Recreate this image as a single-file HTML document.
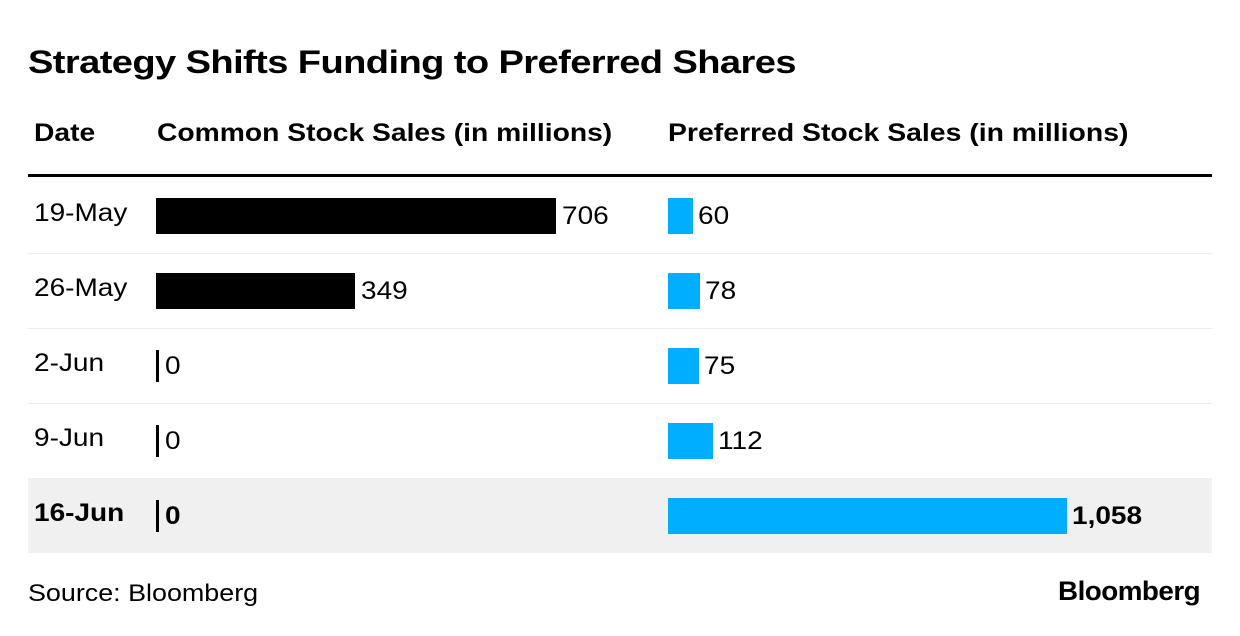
<!DOCTYPE html>
<html><head><meta charset="utf-8"><style>
body{margin:0;background:#fff;font-family:"Liberation Sans",sans-serif;color:#000}
#c{position:relative;width:1240px;height:636px;overflow:hidden}
.t{position:absolute;white-space:nowrap;transform-origin:left center}
</style></head><body>
<div id="c">
<div class="t" style="left:28px;top:44px;font-size:32px;font-weight:bold;letter-spacing:-0.5px;transform:scaleX(1.19)">Strategy Shifts Funding to Preferred Shares</div>
<div class="t" style="left:34px;top:119px;font-size:25px;font-weight:bold;transform:scaleX(1.13)">Date</div>
<div class="t" style="left:157px;top:119px;font-size:25px;font-weight:bold;transform:scaleX(1.13)">Common Stock Sales (in millions)</div>
<div class="t" style="left:668px;top:119px;font-size:25px;font-weight:bold;transform:scaleX(1.135)">Preferred Stock Sales (in millions)</div>
<div style="position:absolute;left:28px;top:174px;width:1184px;height:3px;background:#000"></div>
<div class="t" style="left:28px;top:580px;font-size:24px;transform:scaleX(1.12)">Source: Bloomberg</div>
<div class="t" style="left:1058px;top:576px;font-size:27px;font-weight:bold;letter-spacing:-0.5px;transform:scaleX(1.03)">Bloomberg</div>
<div id="rows"></div>
</div>
<script>
const dates=["19-May","26-May","2-Jun","9-Jun","16-Jun"];
const common=[706,349,0,0,0];
const preferred=[60,78,75,112,1058];
const c=document.getElementById('rows');
const rowTop=179,rowH=75;
const cx0=156,cScale=398/706;
const px0=668,pScale=396/1058;
function fmt(v){return v.toLocaleString('en-US');}
dates.forEach((d,i)=>{
  const top=rowTop+i*rowH, last=i===dates.length-1;
  const row=document.createElement('div');
  
  
  row.style.cssText=`position:absolute;left:28px;top:${top}px;width:1184px;height:${rowH-1}px;${last?'background:#f0f0f0;':''}${i<dates.length-1?'border-bottom:1px solid #eee;':''}`;
  c.appendChild(row);
  const fw=last?'bold':'normal';
  const lab=document.createElement('div');
  lab.className='t';
  
  
  lab.style.cssText=`left:34px;top:${top+20}px;font-size:25px;font-weight:${fw};transform:scaleX(1.12)`;
  lab.textContent=d;c.appendChild(lab);
  const by=top+19;
  const cw=common[i]==0?3:common[i]*cScale+2;
  const cb=document.createElement('div');
  
  
  cb.style.cssText=`position:absolute;left:${cx0}px;top:${by}px;width:${cw}px;height:36px;background:#000;${common[i]==0?'top:'+(by+2)+'px;height:32px;':''}`;
  c.appendChild(cb);
  const cv=document.createElement('div');cv.className='t';
  
  
  cv.style.cssText=`left:${cx0+cw+6}px;top:${by+4}px;font-size:25px;font-weight:${fw};transform:scaleX(1.12)`;
  cv.textContent=fmt(common[i]);c.appendChild(cv);
  const pw=preferred[i]*pScale+3;
  const pb=document.createElement('div');
  
  
  pb.style.cssText=`position:absolute;left:${px0}px;top:${by}px;width:${pw}px;height:36px;background:#00aeff`;
  c.appendChild(pb);
  const pv=document.createElement('div');pv.className='t';
  
  
  pv.style.cssText=`left:${px0+pw+5}px;top:${by+4}px;font-size:25px;font-weight:${fw};transform:scaleX(1.12)`;
  pv.textContent=fmt(preferred[i]);c.appendChild(pv);
});
</script>
</body></html>
